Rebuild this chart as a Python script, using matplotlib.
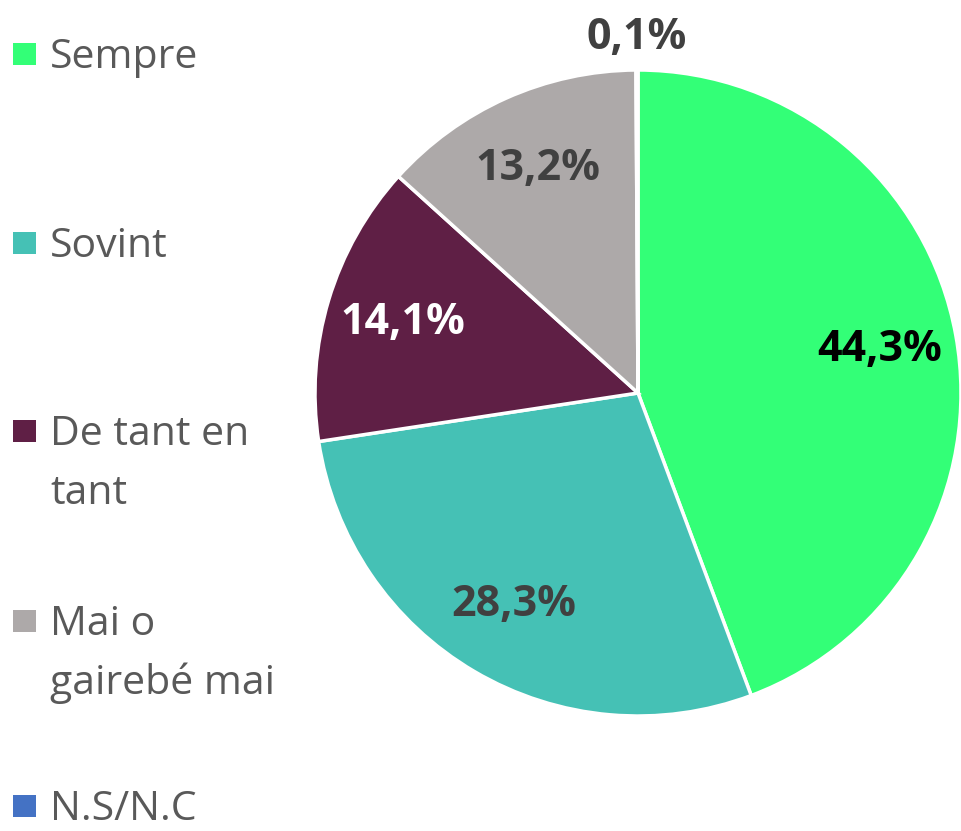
import matplotlib
matplotlib.use('Agg')

import matplotlib.pyplot as plt
import numpy as np
from matplotlib.patches import Rectangle

labels = ['Sempre', 'Sovint', 'De tant en\ntant', 'Mai o\ngairebé mai', 'N.S/N.C']
sizes = [44.3, 28.3, 14.1, 13.2, 0.1]
colors = ['#33FF77', '#45C1B5', '#5F1F45', '#ADA9A9', '#4472C4']
pct_colors = ['#000000', '#404040', '#FFFFFF', '#404040', '#404040']

plt.rcParams['font.family'] = ['Open Sans', 'DejaVu Sans']

fig = plt.figure(figsize=(9.61, 8.31), dpi=100)
fig.patch.set_facecolor('white')

# pie centred at (638, 393) px, radius 323 px
ax = fig.add_axes([315 / 961, (831 - 393 - 323) / 831, 646 / 961, 646 / 831])
wedges, _ = ax.pie(sizes, colors=colors, startangle=90, counterclock=False,
                   wedgeprops=dict(edgecolor='white', linewidth=2.5))
ax.set_xlim(-1, 1)
ax.set_ylim(-1, 1)
ax.set_aspect('equal')
ax.axis('off')

# percentage labels
for i, w in enumerate(wedges):
    mid = np.deg2rad((w.theta1 + w.theta2) / 2)
    dist = 1.10 if sizes[i] < 1 else 0.76
    ax.text(dist * np.cos(mid), dist * np.sin(mid),
            '{:.1f}%'.format(sizes[i]).replace('.', ','),
            ha='center', va='center', fontsize=31, fontweight='bold',
            color=pct_colors[i], clip_on=False)

# legend drawn by hand (marker lines up with the first text line)
legend_base = [68, 257, 445, 635, 820]   # baseline of first line, px from top
line_step = 59
for lab, col, yb in zip(labels, colors, legend_base):
    fig.patches.append(Rectangle((13 / 961, 1 - (yb - 3) / 831), 23 / 961, 22 / 831,
                                 transform=fig.transFigure, facecolor=col,
                                 edgecolor='none'))
    for k, line in enumerate(lab.split('\n')):
        fig.text(50 / 961, 1 - (yb + k * line_step) / 831, line,
                 ha='left', va='baseline', fontsize=29.5, color='#595959')

fig.savefig('out.png', dpi=100, facecolor='white')
